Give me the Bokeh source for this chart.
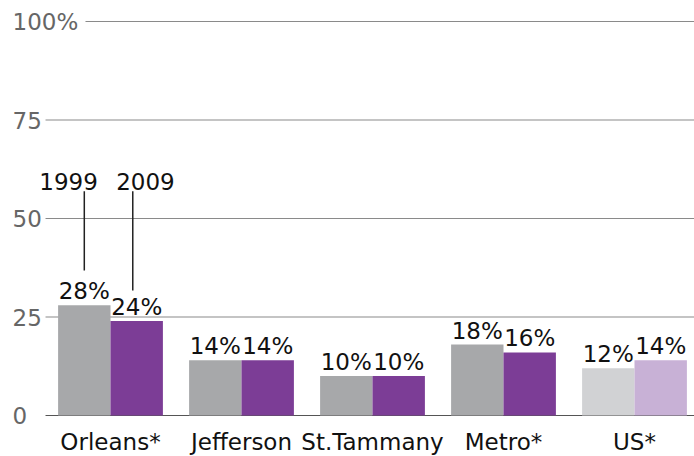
from bokeh.plotting import figure
from bokeh.models import Range1d
from bokeh.core.properties import value
from bokeh.embed import file_html
from bokeh.resources import INLINE

categories = ["Orleans*", "Jefferson", "St.Tammany", "Metro*", "US*"]
v1999 = [28, 14, 10, 18, 12]
v2009 = [24, 14, 10, 16, 14]
years = ["1999", "2009"]
ytick_values = [0, 25, 50, 75, 100]
ytick_labels = ["0", "25", "50", "75", "100%"]

grey = ["#a7a8aa", "#a7a8aa", "#a7a8aa", "#a7a8aa", "#d1d2d4"]
purple = ["#7c3d96", "#7c3d96", "#7c3d96", "#7c3d96", "#c8b1d6"]

FONT = value("DejaVu Sans")
FS = "23px"
W, H = 694, 456
px_x = 131.0   # px per group
px_y = 3.94    # px per percentage point

x0 = (0 - 110) / px_x
x1 = x0 + W / px_x
ytop = (415 - 0) / px_y
ybot = ytop - H / px_y

p = figure(width=W, height=H, output_backend="svg", toolbar_location=None,
           x_range=Range1d(x0, x1), y_range=Range1d(ybot, ytop),
           min_border=0, outline_line_color=None)
p.axis.visible = False
p.grid.visible = False

idx = list(range(len(categories)))
bw = 0.4

# gridlines
gl_start = [-0.496 if v < 100 else -0.191 for v in ytick_values]
gl_color = ["#555555" if v == 0 else "#8a8a8a" for v in ytick_values]
p.segment(x0=gl_start, x1=[x1] * len(ytick_values), y0=ytick_values, y1=ytick_values,
          line_color=gl_color, line_width=1.2)
p.text(x=[-0.748] * len(ytick_values), y=ytick_values, text=ytick_labels,
       text_font=FONT, text_font_size=FS, text_color="#666666",
       text_align="left", text_baseline="middle")

# bars
xa = [i - bw / 2 for i in idx]
xb = [i + bw / 2 for i in idx]
p.vbar(x=xa, top=v1999, width=bw, fill_color=grey, line_color=None)
p.vbar(x=xb, top=v2009, width=bw, fill_color=purple, line_color=None)

# value labels
p.text(x=xa, y=v1999, text=[f"{v}%" for v in v1999], text_font=FONT,
       text_font_size=FS, text_color="#111111", text_align="center",
       text_baseline="bottom", y_offset=-1)
p.text(x=xb, y=v2009, text=[f"{v}%" for v in v2009], text_font=FONT,
       text_font_size=FS, text_color="#111111", text_align="center",
       text_baseline="bottom", y_offset=-1)

# category labels
p.text(x=idx, y=[-6.6] * len(idx), text=categories, text_font=FONT,
       text_font_size=FS, text_color="#111111", text_align="center",
       text_baseline="middle")

# year annotations with leader lines (first group)
lead_x = [xa[0], xb[0] - 0.03]
lead_bottom = [v1999[0] + 8.8, v2009[0] + 7.7]
p.segment(x0=lead_x, x1=lead_x, y0=lead_bottom, y1=[56.9, 56.9],
          line_color="#222222", line_width=1.5)
p.text(x=[-0.32, 0.267], y=[59.4, 59.4], text=years, text_font=FONT,
       text_font_size=FS, text_color="#111111", text_align="center",
       text_baseline="middle")

open("out.html", "w").write(file_html(p, INLINE))
